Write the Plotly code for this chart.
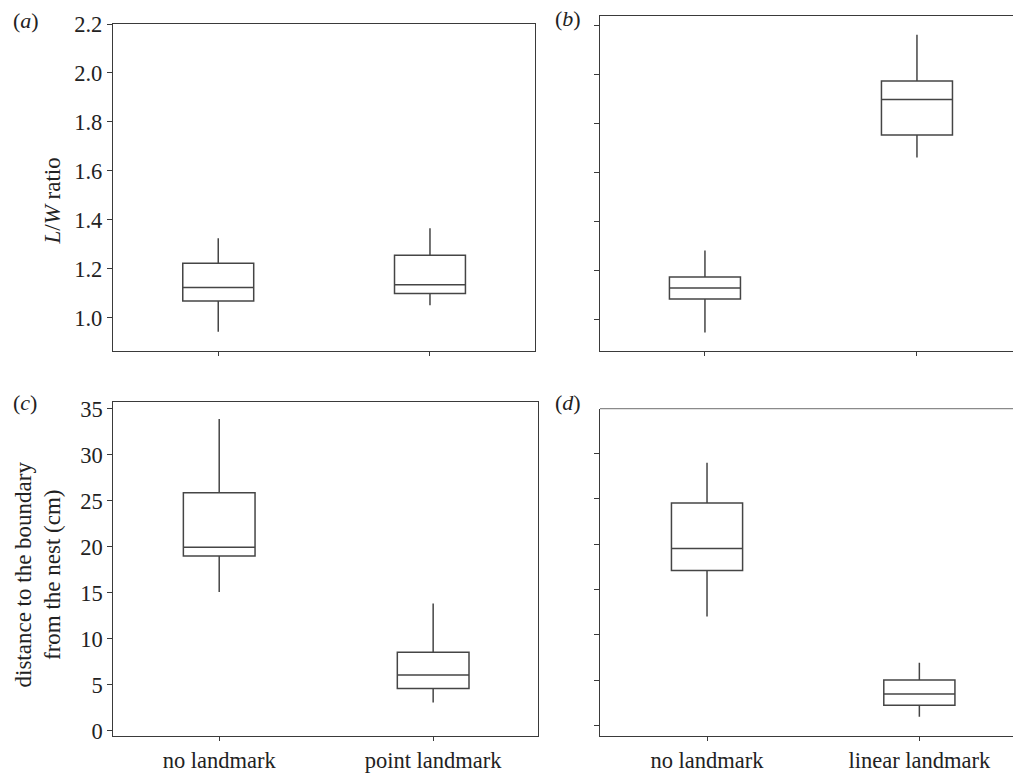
import plotly.graph_objects as go

# ---------------- data ----------------
cats_point = ["no landmark", "point landmark"]
cats_linear = ["no landmark", "linear landmark"]

# (a) L/W ratio, no landmark vs point landmark
a_lower = [0.942, 1.051]
a_q1 = [1.068, 1.099]
a_median = [1.123, 1.134]
a_q3 = [1.222, 1.255]
a_upper = [1.324, 1.365]

# (b) L/W ratio, no landmark vs linear landmark
b_lower = [0.945, 1.659]
b_q1 = [1.082, 1.751]
b_median = [1.127, 1.896]
b_q3 = [1.172, 1.972]
b_upper = [1.280, 2.160]

# (c) distance to boundary (cm), no landmark vs point landmark
c_lower = [15.1, 3.08]
c_q1 = [19.02, 4.6]
c_median = [19.97, 6.05]
c_q3 = [25.9, 8.55]
c_upper = [33.9, 13.85]

# (d) distance to boundary (cm), no landmark vs linear landmark
d_lower = [12.03, 0.99]
d_q1 = [17.09, 2.25]
d_median = [19.52, 3.5]
d_q3 = [24.53, 5.04]
d_upper = [28.96, 6.92]

ratio_ticks = [1.0, 1.2, 1.4, 1.6, 1.8, 2.0, 2.2]
ratio_labels = ["1.0", "1.2", "1.4", "1.6", "1.8", "2.0", "2.2"]
dist_ticks = [0, 5, 10, 15, 20, 25, 30, 35]
dist_ticks_d = [0, 5, 10, 15, 20, 25, 30]

# ---------------- figure ----------------
W, H = 1013, 778
FONT = "Liberation Serif"
AX = "#3a3a3a"
BOX = "#454545"

fig = go.Figure()

def add_box(cats, lo, q1, med, q3, hi, xa, ya):
    fig.add_trace(go.Box(
        x=cats, q1=q1, median=med, q3=q3, lowerfence=lo, upperfence=hi,
        xaxis=xa, yaxis=ya, width=0.335, whiskerwidth=0,
        fillcolor="white", line=dict(color=BOX, width=1.5),
        boxpoints=False, showlegend=False, hoverinfo="skip",
    ))

add_box(cats_point, a_lower, a_q1, a_median, a_q3, a_upper, "x", "y")
add_box(cats_linear, b_lower, b_q1, b_median, b_q3, b_upper, "x2", "y2")
add_box(cats_point, c_lower, c_q1, c_median, c_q3, c_upper, "x3", "y3")
add_box(cats_linear, d_lower, d_q1, d_median, d_q3, d_upper, "x4", "y4")

def px(x):
    return x / W

def py(y):
    return 1 - y / H

common_x = dict(type="category", showgrid=False, zeroline=False, showline=True,
                automargin=False,
                linecolor=AX, linewidth=1.3, ticks="outside", ticklen=4,
                tickcolor=AX, tickwidth=1,
                tickfont=dict(family=FONT, size=22.5, color="#222"))
common_y = dict(showgrid=False, zeroline=False, showline=True,
                automargin=False,
                linecolor=AX, linewidth=1.3, ticks="outside", ticklen=5,
                tickcolor=AX, tickwidth=1,
                tickfont=dict(family=FONT, size=22.5, color="#222"))

fig.update_layout(
    template="none",
    width=W, height=H, autosize=False,
    margin=dict(l=0, r=0, t=0, b=0, pad=0),
    paper_bgcolor="white", plot_bgcolor="white",
    font=dict(family=FONT, color="#222"),
    xaxis=dict(common_x, domain=[px(113), px(535)], range=[-0.497, 1.496],
               anchor="y", mirror=True, showticklabels=False),
    yaxis=dict(common_y, domain=[py(350.7), py(24)], range=[0.865, 2.2],
               anchor="x", mirror=True, tickvals=ratio_ticks, ticktext=ratio_labels),
    xaxis2=dict(common_x, domain=[px(600), 1.0], range=[-0.495, 1.453],
                anchor="y2", mirror=True, showticklabels=False),
    yaxis2=dict(common_y, domain=[py(350.7), py(16)], range=[0.871, 2.237],
                anchor="x2", mirror=False, tickvals=ratio_ticks, showticklabels=False),
    xaxis3=dict(common_x, domain=[px(113.3), px(538)], range=[-0.495, 1.49],
                anchor="y3", mirror=True),
    yaxis3=dict(common_y, domain=[py(735.7), py(402)], range=[-0.54, 35.76],
                anchor="x3", mirror=True, tickvals=dist_ticks),
    xaxis4=dict(common_x, domain=[px(600), 1.0], range=[-0.504, 1.441],
                anchor="y4", mirror=False),
    yaxis4=dict(common_y, domain=[py(735.7), py(408.7)], range=[-1.1, 34.9],
                anchor="x4", mirror=False, tickvals=dist_ticks_d, showticklabels=False),
)

# top border of panel (d) (lighter)
fig.add_shape(type="line", xref="paper", yref="paper",
              x0=px(600), x1=1.0, y0=py(408.7), y1=py(408.7),
              line=dict(color="#8a8a8a", width=1.2))

def note(text, x, y, size=22, angle=0):
    fig.add_annotation(text=text, x=px(x), y=py(y), xref="paper", yref="paper",
                       showarrow=False, xanchor="center", yanchor="middle",
                       textangle=angle, font=dict(family=FONT, size=size, color="#222"))

note("(<i>a</i>)", 25.5, 21)
note("(<i>b</i>)", 568, 18)
note("(<i>c</i>)", 24.7, 402)
note("(<i>d</i>)", 567.7, 403)
note("<i>L</i>/<i>W</i> ratio", 51.5, 201, size=23, angle=-90)
note("distance to the boundary<br>from the nest (cm)", 37.5, 575, size=23, angle=-90)

fig.write_html("out.html", config={"displayModeBar": False},
               post_script="document.body.style.margin='0';document.body.style.overflow='hidden';")
